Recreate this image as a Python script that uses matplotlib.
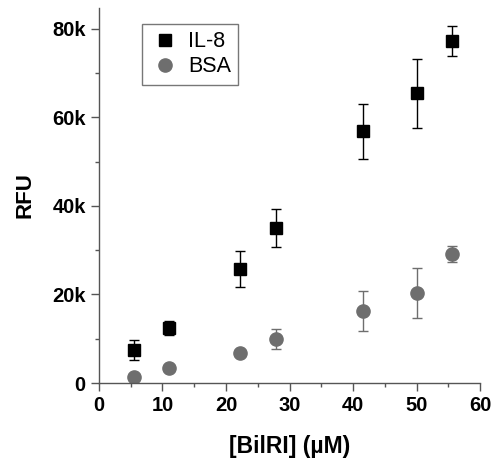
import matplotlib
matplotlib.use("Agg")
import matplotlib.pyplot as plt
from matplotlib.lines import Line2D
from matplotlib.ticker import MultipleLocator, FuncFormatter

plt.rcParams["font.family"] = ["Liberation Sans", "DejaVu Sans"]

# concentrations of BilRI (uM)
conc = [5.5, 11.1, 22.2, 27.8, 41.6, 50.0, 55.5]

# IL-8 signal and error (RFU)
il8 = [7400, 12500, 25800, 35000, 56800, 65400, 77300]
il8_err = [2300, 1600, 4000, 4300, 6300, 7800, 3400]

# BSA signal and error (RFU)
bsa = [1400, 3500, 6900, 10000, 16300, 20400, 29200]
bsa_err = [400, 400, 400, 2300, 4500, 5600, 1800]

gray = "#6e6e6e"

fig = plt.figure(figsize=(4.92, 4.61), dpi=100)
ax = fig.add_axes([0.201, 0.169, 0.775, 0.814])

ax.errorbar(conc, il8, yerr=il8_err, fmt="s", color="black", ms=9,
            ecolor="black", elinewidth=1, capsize=3.5)
ax.errorbar(conc, bsa, yerr=bsa_err, fmt="o", color=gray, ms=9.5,
            ecolor=gray, elinewidth=1, capsize=3.5)

ax.set_xlim(0, 60)
ax.set_ylim(0, 84700)

ax.xaxis.set_major_locator(MultipleLocator(10))
ax.xaxis.set_minor_locator(MultipleLocator(5))
ax.yaxis.set_major_locator(MultipleLocator(20000))
ax.yaxis.set_minor_locator(MultipleLocator(10000))
ax.yaxis.set_major_formatter(FuncFormatter(lambda v, p: "0" if v == 0 else f"{int(v/1000)}k"))

for s in ["top", "right"]:
    ax.spines[s].set_visible(False)
for s in ["left", "bottom"]:
    ax.spines[s].set_color("#555555")
    ax.spines[s].set_linewidth(1)

ax.tick_params(which="major", direction="out", length=6, width=1, color="#555555",
               labelsize=14.5)
ax.tick_params(which="minor", direction="out", length=3, width=1, color="#555555")
for lbl in ax.get_xticklabels() + ax.get_yticklabels():
    lbl.set_fontweight("bold")

ax.set_xlabel("[BilRI] (µM)", fontsize=16.5, fontweight="bold", labelpad=14)
ax.set_ylabel("RFU", fontsize=16, fontweight="bold", labelpad=12)

handles = [
    Line2D([], [], marker="s", color="black", ls="none", ms=9, label="IL-8"),
    Line2D([], [], marker="o", color=gray, ls="none", ms=9.5, label="BSA"),
]
leg = ax.legend(handles=handles, loc="upper left", bbox_to_anchor=(0.112, 0.958),
                fontsize=15.5, frameon=True, fancybox=False, edgecolor="#555555",
                handletextpad=0.3, handlelength=1.5, borderpad=0.35,
                labelspacing=0.2, borderaxespad=0)
leg.get_frame().set_linewidth(1)

fig.savefig("out.png", dpi=100)
